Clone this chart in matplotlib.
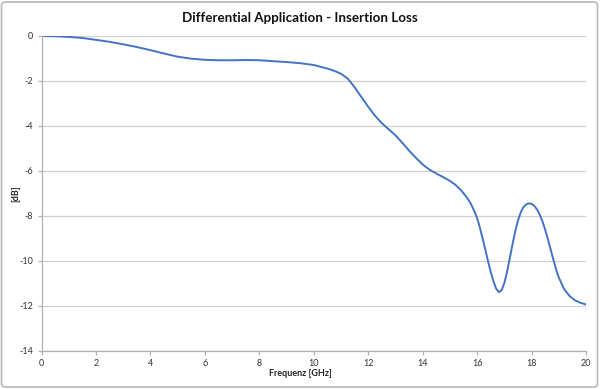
import matplotlib
matplotlib.use("Agg")
import matplotlib.pyplot as plt
from matplotlib.patches import FancyBboxPatch

# ---- data ----
freq_ghz = [0, 0.5, 1, 1.5, 2, 2.5, 3, 3.5, 4, 4.5, 5, 5.5, 6, 6.5, 7, 7.5, 8, 8.5,
            9, 9.5, 10, 10.5, 10.75, 11, 11.25, 11.5, 11.75, 12, 12.25, 12.5, 12.75,
            13, 13.25, 13.5, 13.75, 14, 14.25, 14.5, 14.75, 15, 15.2, 15.4, 15.6,
            15.75, 15.9, 16.0, 16.1, 16.2, 16.3, 16.4, 16.5, 16.6, 16.7, 16.8, 16.9,
            17.0, 17.1, 17.2, 17.3, 17.4, 17.5, 17.6, 17.7, 17.8, 17.9, 18.0, 18.1,
            18.2, 18.3, 18.4, 18.5, 18.6, 18.7, 18.8, 18.9, 19.0, 19.2, 19.4, 19.6,
            19.8, 20]
loss_db = [0, -0.01, -0.04, -0.09, -0.17, -0.26, -0.37, -0.49, -0.63, -0.78, -0.92,
           -1.01, -1.06, -1.08, -1.08, -1.07, -1.08, -1.12, -1.16, -1.21, -1.29,
           -1.45, -1.55, -1.68, -1.9, -2.28, -2.72, -3.15, -3.55, -3.88, -4.15,
           -4.42, -4.75, -5.1, -5.42, -5.72, -5.95, -6.12, -6.28, -6.45, -6.62,
           -6.85, -7.15, -7.42, -7.8, -8.1, -8.52, -9.0, -9.5, -10.02, -10.5,
           -10.92, -11.25, -11.4, -11.32, -11.0, -10.5, -9.9, -9.28, -8.7, -8.22,
           -7.86, -7.62, -7.5, -7.45, -7.47, -7.56, -7.72, -7.95, -8.25, -8.62,
           -9.05, -9.5, -9.95, -10.38, -10.75, -11.27, -11.58, -11.77, -11.88, -11.95]

x_ticks = [0, 2, 4, 6, 8, 10, 12, 14, 16, 18, 20]
y_ticks = [0, -2, -4, -6, -8, -10, -12, -14]

title = "Differential Application - Insertion Loss"
x_label = "Frequenz [GHz]"
y_label = "[dB]"

plt.rcParams['font.family'] = ['Lato', 'DejaVu Sans']

W, H = 600, 389
fig = plt.figure(figsize=(W / 100, H / 100), dpi=100)
fig.patch.set_facecolor('white')

# outer chart border
border = FancyBboxPatch((1.5 / W, 2 / H), (W - 4) / W, (H - 4) / H,
                        boxstyle="round,pad=0,rounding_size=0.008",
                        transform=fig.transFigure, fill=False,
                        edgecolor='#b8b8b8', linewidth=1.2)
fig.patches.append(border)

left, right, top, bottom = 41.5, 586, 36, 350.5
ax = fig.add_axes([left / W, (H - bottom) / H, (right - left) / W, (bottom - top) / H])
ax.plot(freq_ghz, loss_db, color='#4472C4', linewidth=1.4, solid_capstyle='round',
        solid_joinstyle='round')

ax.set_xlim(0, 20)
ax.set_ylim(-14, 0)
ax.set_xticks(x_ticks)
ax.set_yticks(y_ticks)
ax.set_xticklabels([str(v) for v in x_ticks])
ax.set_yticklabels([str(v) for v in y_ticks])

ax.yaxis.grid(True, color='#d0d0d0', linewidth=0.9)
ax.set_axisbelow(True)
for side in ['top', 'right']:
    ax.spines[side].set_visible(False)
for side in ['left', 'bottom']:
    ax.spines[side].set_color('#b0b0b0')
    ax.spines[side].set_linewidth(0.9)

ax.tick_params(axis='both', labelsize=6.5, colors='#b0b0b0', labelcolor='#333333',
               length=3, width=0.9)
ax.tick_params(axis='x', pad=3)
ax.tick_params(axis='y', pad=3)

fig.text(0.5, 1 - 373 / H, x_label, ha='center', va='center', fontsize=6.5,
         fontweight='bold', color='#222222')
fig.text(16 / W, 1 - 194 / H, y_label, ha='center', va='center', fontsize=6.5,
         fontweight='bold', color='#222222', rotation=90)

fig.text(0.5, 1 - 18 / H, title, ha='center', va='center', fontsize=9.6,
         fontweight='bold', color='#111111')

fig.savefig('out.png', dpi=100)
